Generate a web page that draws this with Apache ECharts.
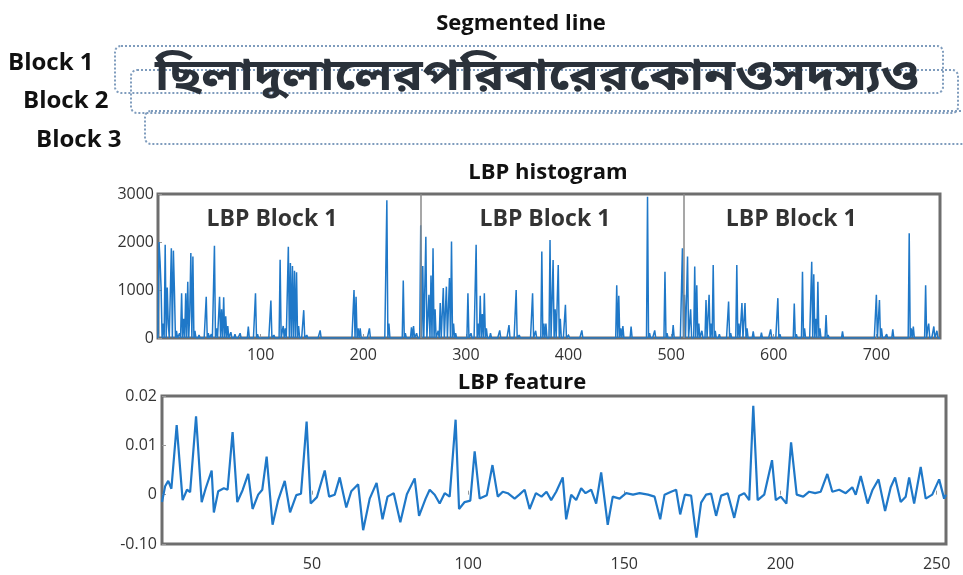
<!DOCTYPE html>
<html>
<head>
<meta charset="utf-8">
<script src="https://cdn.jsdelivr.net/npm/echarts@6/dist/echarts.min.js"></script>
<style>
  html, body { margin: 0; padding: 0; background: #fff; }
  #chart { width: 963px; height: 575px; }
</style>
</head>
<body>
<div id="chart"></div>
<script>
// histogram: bin index and count of the non-zero bins (other bins are 0)
var histBins = [1, 2, 3, 5, 7, 9, 10, 13, 15, 16, 18, 21, 23, 25, 27, 29, 31, 32, 34, 36, 40, 47, 49, 52, 55, 57, 60, 62, 64, 66, 68, 71, 75, 80, 88, 95, 97,
  110, 113, 119, 122, 124, 127, 129, 131, 133, 135, 137, 142, 145, 158, 191, 193, 195, 197, 206, 223, 225, 239, 241, 247, 249, 252,
  256, 258, 261, 264, 266, 268, 270, 273, 275, 278, 281, 284, 286, 288, 290, 302, 305, 310, 312, 314, 316, 318, 320, 324, 333, 342, 349, 352,
  365, 368, 374, 376, 378, 382, 385, 387, 390, 392, 397, 400, 413, 447, 449, 451, 453, 461, 477, 479, 484, 494, 496, 502,
  511, 513, 516, 519, 523, 525, 527, 530, 534, 537, 539, 541, 543, 547, 556, 558, 564, 566, 569, 572, 574, 580, 588, 597, 604, 606,
  620, 622, 628, 630, 637, 639, 641, 643, 645, 651, 653, 667, 700, 703, 705, 710, 716, 732, 734, 736, 748, 750, 751, 756, 759];
var histCounts = [2000, 1600, 1050, 300, 1940, 1050, 300, 1870, 1820, 1000, 150, 100, 930, 400, 930, 1170, 600, 1770, 1700, 150, 60, 860, 100, 80, 1920, 200, 860, 600, 850, 450, 250, 120, 80, 100, 240, 930, 80,
  780, 60, 1630, 250, 200, 1900, 1560, 1500, 1400, 1370, 250, 580, 60, 160, 1000, 860, 200, 200, 200, 2870, 300, 1200, 100, 220, 250, 100,
  2350, 1500, 2110, 900, 1300, 1870, 600, 150, 730, 1040, 1070, 1250, 2010, 300, 100, 930, 100, 1940, 300, 880, 500, 930, 200, 100, 160, 270, 1000, 60,
  930, 150, 1800, 300, 300, 2040, 1625, 600, 1520, 400, 690, 60, 160, 1100, 880, 200, 250, 240, 2940, 100, 160, 1380, 100, 270,
  1870, 900, 1700, 600, 1490, 1100, 300, 150, 790, 900, 300, 1520, 150, 80, 760, 100, 1520, 300, 730, 730, 200, 140, 110, 180, 830, 80,
  720, 80, 1380, 200, 1590, 1330, 400, 1170, 200, 480, 60, 140, 900, 790, 200, 80, 180, 2180, 200, 240, 1100, 200, 300, 240, 150];
var histMaxBin = 762;
var blockEdges = [256, 512];
var blockLabelX = [111, 377, 617];
var blockLabelY = 2460;

// LBP feature curve
var featureX = [2, 3, 4, 5, 6.7, 8.6, 10, 11, 12.9, 14.7, 16, 17.9, 18.6, 20, 21.8, 23, 24.6, 26.1, 27.8, 29.6, 31, 32.8, 34.1, 35.5, 37.4, 39.2, 41.3, 43, 45, 46.5,
  48.3, 49.6, 51.6, 54.1, 55.5, 57.3, 58.9, 61, 62.6, 64.8, 66.4, 68.5, 70.7, 72.6, 74.2, 76.2, 78.3, 80.4, 82.9, 84.3, 86.4, 87.7, 89.3, 90.9, 92.5, 94.1,
  96, 97.1, 98.9, 100.7, 102.1, 103.7, 106, 107.8, 109.5, 111.1, 112.7, 114.9, 116.4, 118.1, 119.7, 121.7, 123.5, 125.1, 126.6, 128.2, 130.3, 131.4, 133, 134.6,
  136.2, 137.6, 139.4, 141, 142.6, 144.7, 146.3, 148.5, 150.6, 152.8, 154.9, 157.6, 159.7, 161.5, 162.9, 165, 166.6, 167.9, 169.4, 171.4, 173.1, 174.6, 176.2,
  177.8, 179.4, 181, 183.1, 185.2, 186.8, 188.4, 190, 191.3, 192.7, 194.8, 197.3, 198.5, 200.1, 201.9, 203.4, 205.2, 207.3, 209.2, 211.1, 212.9, 215, 216.6,
  218.8, 220.9, 223, 224.1, 225.7, 227.9, 229.5, 231.4, 233.5, 235.3, 236.7, 238.5, 240.1, 241.2, 242.8, 244.9, 246.5, 248.6, 250.8, 252.4, 253];
var featureY = [-0.0015, 0.0017, 0.0028, 0.0012, 0.0141, -0.0011, 0.0010, 0.0005, 0.0159, -0.0015, 0.0013, 0.0049, -0.0036, 0.0007, 0.0013, 0.0010, 0.0127, -0.0015, 0.0009, 0.0042, -0.0029, 0.0000, 0.0010, 0.0077, -0.0061, -0.0011, 0.0028, -0.0036, -0.0001, 0.0002,
  0.0148, -0.0018, -0.0005, 0.0049, -0.0004, 0.0000, 0.0035, -0.0026, 0.0007, 0.0021, -0.0072, -0.0008, 0.0024, -0.0050, -0.0004, 0.0003, -0.0056, 0.0001, 0.0033, -0.0043, -0.0008, 0.0010, 0.0000, -0.0018, 0.0003, -0.0004,
  0.0152, -0.0029, -0.0015, -0.0012, 0.0088, -0.0008, -0.0001, 0.0060, -0.0004, 0.0006, 0.0003, -0.0008, 0.0000, 0.0010, -0.0029, 0.0003, -0.0004, 0.0006, -0.0011, 0.0006, 0.0035, -0.0050, 0.0000, -0.0011,
  0.0013, 0.0003, 0.0010, -0.0018, 0.0045, -0.0061, -0.0004, -0.0008, 0.0003, 0.0000, 0.0003, 0.0000, -0.0004, -0.0050, 0.0000, 0.0006, 0.0010, -0.0040, 0.0000, -0.0002, -0.0087, -0.0016, 0.0000,
  0.0002, -0.0043, -0.0002, 0.0003, -0.0047, -0.0002, 0.0003, -0.0011, 0.0180, -0.0011, 0.0000, 0.0070, -0.0011, -0.0004, -0.0018, 0.0106, 0.0000, -0.0004, 0.0006, 0.0003, 0.0006, 0.0042, 0.0006,
  0.0010, 0.0003, 0.0015, 0.0000, 0.0038, -0.0018, 0.0010, 0.0031, -0.0033, 0.0015, 0.0035, -0.0015, -0.0004, 0.0035, -0.0018, 0.0056, -0.0008, 0.0000, 0.0031, -0.0008, 0.0000];
var featureTicks = [50, 100, 150, 200, 250];
var featureYLabels = { '0.02': '0.02', '0.01': '0.01', '0': '0', '-0.01': '-0.10' };

var segmentText = 'ছিলাদুলালেরপরিবারেরকোনওসদস্যও';
var blockNames = ['Block 1', 'Block 2', 'Block 3'];

// 把稀疏的直方图展开成每个 bin 一个点
var countByBin = {};
histBins.forEach(function (b, i) { countByBin[b] = histCounts[i]; });
var histData = [];
for (var b = 0; b <= histMaxBin; b++) {
  histData.push([b, countByBin[b] || 0]);
}
var featureData = featureX.map(function (x, i) { return [x, featureY[i]]; });

var FONT = '"Open Sans", "Noto Sans", sans-serif';
var BLUE = '#1f78c8';
var FRAME = '#6e6e6e';
var DOT = '#7f9cbd';

var chart = echarts.init(document.getElementById('chart'));

var axisLabelStyle = { color: '#333', fontSize: 16, fontFamily: FONT };

var option = {
  animation: false,
  grid: [
    { left: 158, top: 194, width: 782, height: 144, show: true, borderColor: FRAME, borderWidth: 3, backgroundColor: '#fff' },
    { left: 162, top: 396, width: 784, height: 148, show: true, borderColor: FRAME, borderWidth: 3, backgroundColor: '#fff' }
  ],
  xAxis: [
    {
      gridIndex: 0, type: 'value', min: 0, max: histMaxBin, interval: 100,
      axisLine: { show: false },
      axisTick: { show: true, inside: true, length: 4, lineStyle: { color: '#999' } },
      splitLine: { show: false },
      axisLabel: Object.assign({
        margin: 9, showMaxLabel: false,
        formatter: function (v) { return (v === 0 || v === histMaxBin) ? '' : String(v); }
      }, axisLabelStyle)
    },
    {
      gridIndex: 1, type: 'value', min: 2, max: 253,
      axisLine: { show: false },
      axisTick: { show: true, inside: true, length: 4, customValues: featureTicks, lineStyle: { color: '#999' } },
      splitLine: { show: false },
      axisLabel: Object.assign({ margin: 12, customValues: featureTicks }, axisLabelStyle)
    }
  ],
  yAxis: [
    {
      gridIndex: 0, type: 'value', min: 0, max: 3000, interval: 1000,
      axisLine: { show: false },
      axisTick: { show: true, inside: true, length: 4, lineStyle: { color: '#999' } },
      splitLine: { show: false },
      axisLabel: Object.assign({ margin: 4, formatter: function (v) { return String(v); } }, axisLabelStyle)
    },
    {
      gridIndex: 1, type: 'value', min: -0.01, max: 0.02, interval: 0.01,
      axisLine: { show: false },
      axisTick: { show: true, inside: true, length: 4, lineStyle: { color: '#999' } },
      splitLine: { show: false },
      axisLabel: Object.assign({
        margin: 5,
        formatter: function (v) {
          var key = String(Math.round(v * 100) / 100);
          return featureYLabels[key] !== undefined ? featureYLabels[key] : key;
        }
      }, axisLabelStyle)
    }
  ],
  series: [
    {
      name: 'LBP histogram', type: 'line', xAxisIndex: 0, yAxisIndex: 0,
      data: histData, showSymbol: false, symbol: 'none',
      lineStyle: { color: BLUE, width: 1.5 },
      markLine: {
        silent: true, symbol: 'none', label: { show: false },
        lineStyle: { color: '#8a8a8a', width: 1.5, type: 'solid' },
        data: blockEdges.map(function (e) { return { xAxis: e }; })
      },
      z: 3
    },
    {
      name: 'block labels', type: 'scatter', xAxisIndex: 0, yAxisIndex: 0,
      data: blockLabelX.map(function (x) { return [x, blockLabelY]; }),
      symbolSize: 0, silent: true,
      label: {
        show: true, position: 'inside', formatter: 'LBP Block 1',
        color: '#000', fontSize: 23, fontWeight: 'bold', fontFamily: FONT
      },
      z: 4
    },
    {
      name: 'LBP feature', type: 'line', xAxisIndex: 1, yAxisIndex: 1,
      data: featureData, showSymbol: false, symbol: 'none',
      lineStyle: { color: BLUE, width: 2.2 }
    }
  ],
  graphic: [
    // 分块的虚线框
    { type: 'rect', shape: { x: 115, y: 46, width: 828, height: 47, r: 6 }, style: { fill: 'none', stroke: DOT, lineWidth: 2, lineDash: [2, 2] } },
    { type: 'rect', shape: { x: 131, y: 70, width: 827, height: 43, r: 6 }, style: { fill: 'none', stroke: DOT, lineWidth: 2, lineDash: [2, 2] } },
    { type: 'rect', shape: { x: 145, y: 111, width: 830, height: 33, r: 6 }, style: { fill: 'none', stroke: DOT, lineWidth: 2, lineDash: [2, 2] } },
    {
      type: 'text', x: 155, y: 82, scaleX: 1.14,
      style: { text: segmentText, fill: '#2a313a', font: 'bold 44px "Noto Sans Bengali", "Noto Sans", sans-serif', textVerticalAlign: 'middle' }
    },
    { type: 'text', x: 521, y: 24, style: { text: 'Segmented line', fill: '#111', font: 'bold 22px ' + FONT, textAlign: 'center', textVerticalAlign: 'middle' } },
    { type: 'text', x: 8, y: 63, style: { text: blockNames[0], fill: '#111', font: 'bold 24px ' + FONT, textVerticalAlign: 'middle' } },
    { type: 'text', x: 23, y: 101, style: { text: blockNames[1], fill: '#111', font: 'bold 24px ' + FONT, textVerticalAlign: 'middle' } },
    { type: 'text', x: 36, y: 140, style: { text: blockNames[2], fill: '#111', font: 'bold 24px ' + FONT, textVerticalAlign: 'middle' } },
    { type: 'text', x: 548, y: 173, style: { text: 'LBP histogram', fill: '#111', font: 'bold 22px ' + FONT, textAlign: 'center', textVerticalAlign: 'middle' } },
    { type: 'text', x: 522, y: 383, style: { text: 'LBP feature', fill: '#111', font: 'bold 22px ' + FONT, textAlign: 'center', textVerticalAlign: 'middle' } }
  ]
};

chart.setOption(option);
window.addEventListener('resize', function () {
  chart.resize();
});
</script>
</body>
</html>
